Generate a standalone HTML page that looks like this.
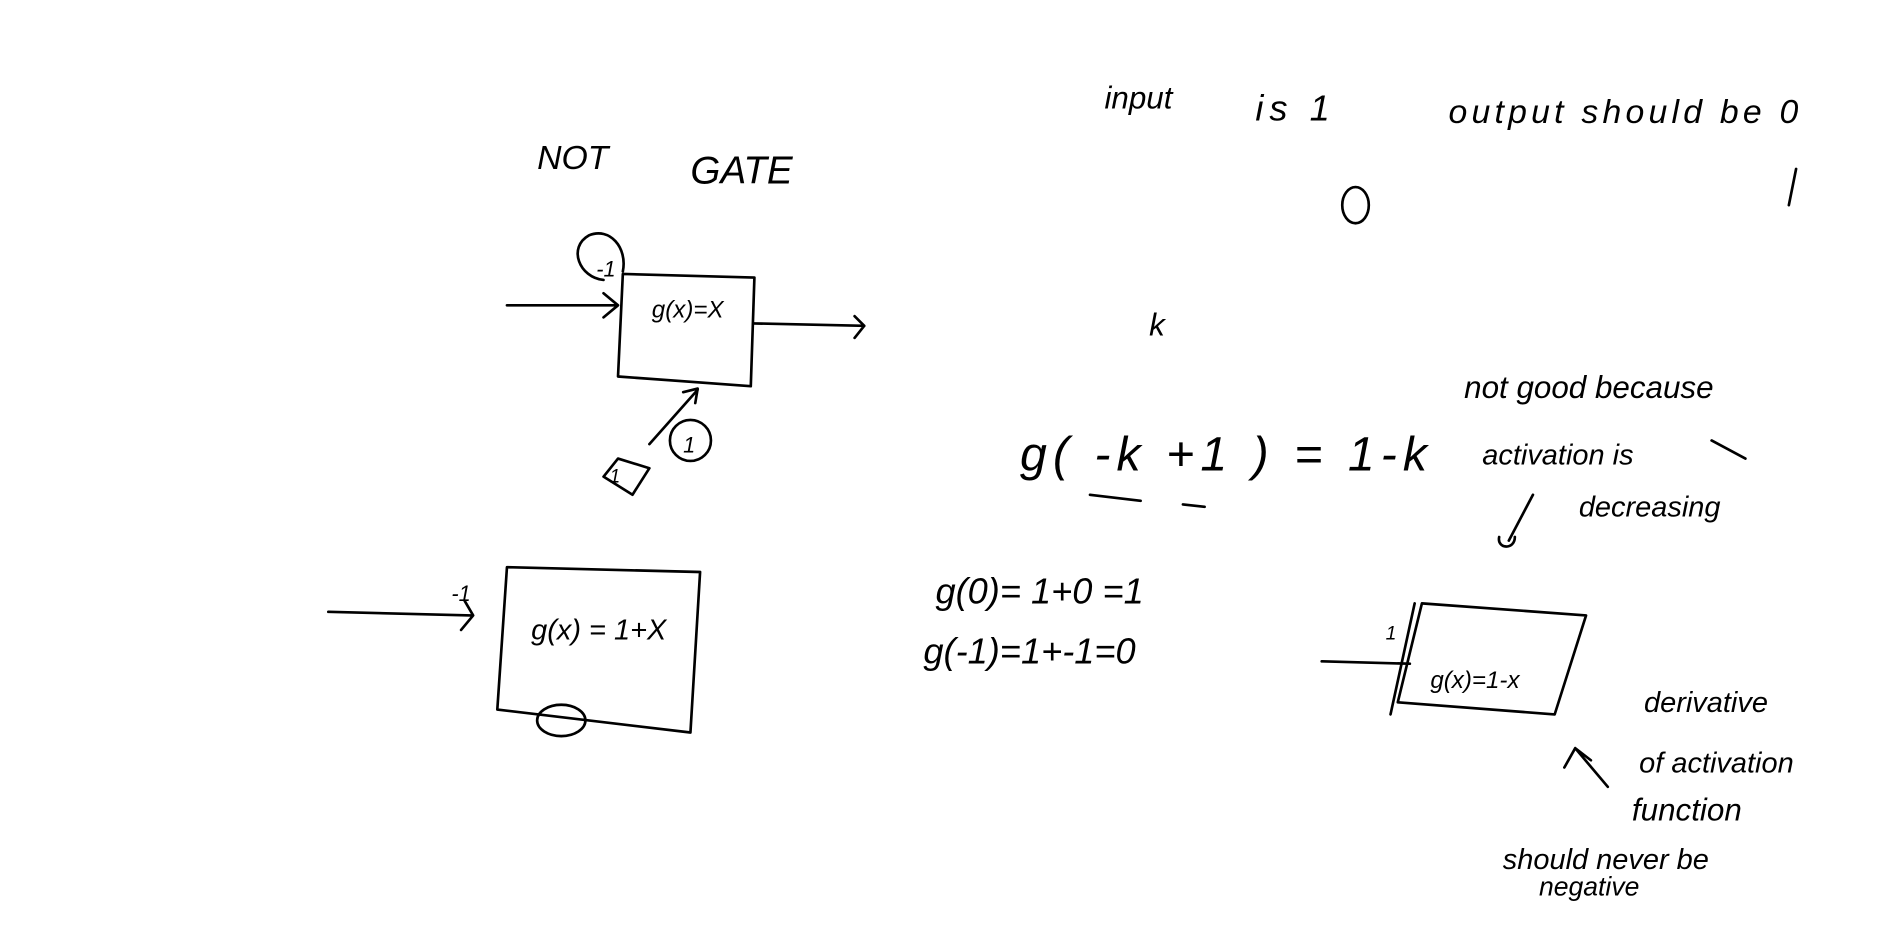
<!DOCTYPE html>
<html><head><style>
html,body{margin:0;padding:0;background:#fff;}
svg{display:block}
text{font-family:"Liberation Sans",sans-serif;font-style:italic;fill:#000}
</style></head><body>
<svg width="1883" height="928" viewBox="0 0 1560 769" preserveAspectRatio="none" xmlns="http://www.w3.org/2000/svg">
<g fill="none" stroke="#000" stroke-width="2.2" stroke-linecap="round" stroke-linejoin="round">
<path d="M516 227 L625 230 L622 320 L512 312 Z"/>
<path d="M420 253 L510 253 M500 243 L512 253 L500 263"/>
<path d="M624 268 L716 270 M708 262 L716 270 L708 280"/>
<path d="M500 232 C480 230 470 205 488 195 C505 188 520 205 516 225"/>
<path d="M538 368 L578 323 M566 325 L578 322 L576 334"/>
<ellipse cx="572" cy="365" rx="17" ry="17"/>
<path d="M500 395 L512 380 L538 388 L524 410 Z"/>
<path d="M420 470 L580 474 L572 607 L412 588 Z"/>
<path d="M272 507 L390 510 M385 498 L392 510 L382 522"/>
<ellipse cx="465" cy="597" rx="20" ry="13"/>
<path d="M1178 500 L1314 510 L1288 592 L1158 582 Z"/>
<path d="M1095 548 L1168 550"/>
<path d="M1172 500 L1152 592"/>
<path d="M1270 410 L1250 448 M1242 445 C1240 455 1255 456 1255 445"/>
<path d="M1418 365 L1446 380"/>
<path d="M1332 652 L1305 620 M1296 636 L1305 620 L1318 630"/>
<path d="M903 410 L945 415 M980 418 L998 420"/>
<ellipse cx="1123" cy="170" rx="11" ry="15"/>
<path d="M1488 140 L1482 170"/>
</g>
<g font-size="28">
<text x="445" y="140">NOT</text>
<text x="572" y="152" font-size="32">GATE</text>
<text x="540" y="263" font-size="20">g(x)=X</text>
<text x="494" y="229" font-size="18">-1</text>
<text x="566" y="375" font-size="18">1</text>
<text x="505" y="400" font-size="16">1</text>
<text x="440" y="530" font-size="24">g(x) = 1+X</text>
<text x="374" y="498" font-size="18">-1</text>
<text x="1185" y="570" font-size="20">g(x)=1-x</text>
<text x="1148" y="530" font-size="16">1</text>
<text x="915" y="90" font-size="26">input</text>
<text x="1040" y="100" font-size="30" letter-spacing="5">is 1</text>
<text x="1200" y="102" font-size="28" letter-spacing="3.5">output should be 0</text>
<text x="952" y="278" font-size="26">k</text>
<text x="845" y="390" font-size="40" letter-spacing="5">g( -k  +1 )  = 1-k</text>
<text x="775" y="500" font-size="30">g(0)= 1+0 =1</text>
<text x="765" y="550" font-size="30">g(-1)=1+-1=0</text>
<text x="1213" y="330" font-size="26">not good because</text>
<text x="1228" y="385" font-size="24">activation is</text>
<text x="1308" y="428" font-size="24">decreasing</text>
<text x="1362" y="590" font-size="24">derivative</text>
<text x="1358" y="640" font-size="24">of activation</text>
<text x="1352" y="680" font-size="26">function</text>
<text x="1245" y="720" font-size="24">should never be</text>
<text x="1275" y="742" font-size="22">negative</text>
</g>
</svg>
</body></html>
